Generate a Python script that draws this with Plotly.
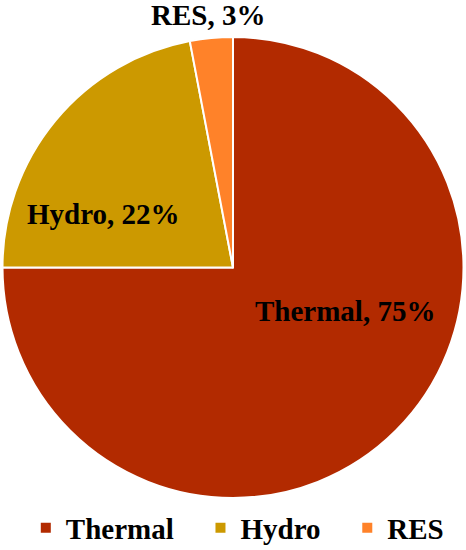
import plotly.graph_objects as go

# Share of generation by source
sources = ["Thermal", "Hydro", "RES"]
shares = [75, 22, 3]
colours = ["#B22A00", "#CC9900", "#FF8229"]

# where each data label sits, in pixels of the 466x550 picture
label_px = [(345, 311), (103, 214), (208, 15)]

W, H = 466, 550
ml, mr, mt, mb = 2, 2, 37, 52

# a bit of trailing space so the legend entries spread like the original
legend_names = [s + "\u00a0" * 3 for s in sources[:-1]] + sources[-1:]

fig = go.Figure(go.Pie(
    labels=legend_names,
    values=shares,
    sort=False,
    direction="clockwise",
    rotation=0,
    marker=dict(colors=colours, line=dict(color="white", width=2)),
    textinfo="none",
    hoverinfo="label+percent",
))

lab_font = dict(family="Liberation Serif", size=29, color="black", weight="bold")
for name, val, (px, py) in zip(sources, shares, label_px):
    fig.add_annotation(
        text=f"{name}, {val}%",
        xref="paper", yref="paper",
        x=(px - ml) / (W - ml - mr), y=(H - mb - py) / (H - mt - mb),
        xanchor="center", yanchor="middle",
        showarrow=False, font=lab_font,
    )

fig.update_layout(
    width=W, height=H,
    margin=dict(l=ml, r=mr, t=mt, b=mb, autoexpand=False),
    paper_bgcolor="white",
    showlegend=True,
    legend=dict(
        orientation="h", x=0.0515, xanchor="left",
        yref="container", y=1 - 528 / H, yanchor="middle",
        font=dict(family="Liberation Serif", size=29, color="black", weight="bold"),
        itemsizing="constant",
    ),
)

# drop the browser's default body margin so the figure sits at 0,0
fig.write_html("out.html", config={"displayModeBar": False},
               post_script="document.body.style.margin='0';")
